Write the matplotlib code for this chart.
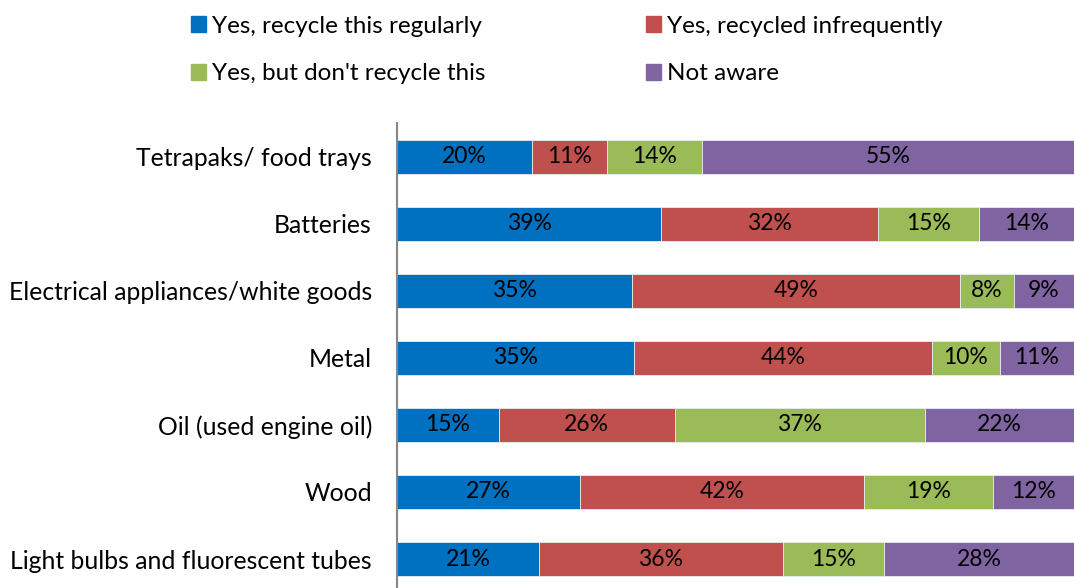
import numpy as np
import matplotlib
matplotlib.use('Agg')
import matplotlib.pyplot as plt
from matplotlib.patches import Patch

plt.rcParams['font.family'] = ['Lato', 'DejaVu Sans']

categories = ['Tetrapaks/ food trays', 'Batteries', 'Electrical appliances/white goods',
              'Metal', 'Oil (used engine oil)', 'Wood', 'Light bulbs and fluorescent tubes']
series_names = ['Yes, recycle this regularly', 'Yes, recycled infrequently',
                "Yes, but don't recycle this", 'Not aware']
regular = [20, 39, 35, 35, 15, 27, 21]
infrequent = [11, 32, 49, 44, 26, 42, 36]
dont = [14, 15, 8, 10, 37, 19, 15]
not_aware = [55, 14, 9, 11, 22, 12, 28]
colors = ['#0070C0', '#C0504D', '#9BBB59', '#8064A2']

data = np.array([regular, infrequent, dont, not_aware], dtype=float)
shares = data / data.sum(axis=0)

fig = plt.figure(figsize=(10.74, 5.88), dpi=100)
ax = fig.add_axes([0.3696, -0.0077, 0.6304, 0.798])

y = np.arange(len(categories))
left = np.zeros(len(categories))
for i in range(4):
    ax.barh(y, shares[i], left=left, height=0.507, color=colors[i],
            edgecolor='#E6ECF2', linewidth=0.6, label=series_names[i])
    for j in range(len(categories)):
        ax.text(left[j] + shares[i][j] / 2, y[j], '%d%%' % data[i][j],
                ha='center', va='center', fontsize=16.5, color='black')
    left += shares[i]

ax.set_xlim(0, 1)
ax.set_ylim(len(categories) - 0.5, -0.5)
ax.set_yticks(y)
ax.set_yticklabels(categories, fontsize=17.8)
ax.tick_params(axis='y', length=0, pad=18)
ax.set_xticks([])
for s in ['top', 'right', 'bottom']:
    ax.spines[s].set_visible(False)
ax.spines['left'].set_color('#868686')
ax.spines['left'].set_linewidth(1.5)

handles = [Patch(color=colors[0]), Patch(color=colors[2]),
           Patch(color=colors[1]), Patch(color=colors[3])]
labels = [series_names[0], series_names[2], series_names[1], series_names[3]]
fig.legend(handles, labels, ncol=2, loc='upper left', bbox_to_anchor=(0.178, 0.973),
           frameon=False, fontsize=17.5, handlelength=0.62, handleheight=0.62,
           handletextpad=0.25, columnspacing=6.6, labelspacing=1.09, borderpad=0,
           borderaxespad=0)

fig.savefig('out.png', dpi=100)
